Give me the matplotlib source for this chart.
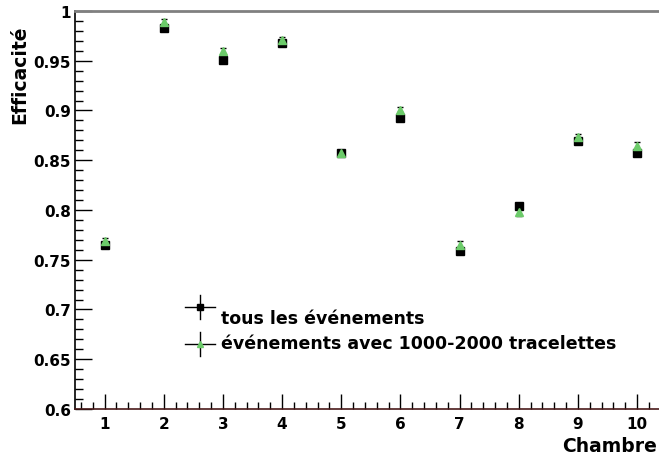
import matplotlib
matplotlib.use("Agg")
import matplotlib.pyplot as plt
from matplotlib.ticker import MultipleLocator, FuncFormatter

chambres = [1, 2, 3, 4, 5, 6, 7, 8, 9, 10]
eff_tous = [0.765, 0.983, 0.951, 0.968, 0.857, 0.892, 0.759, 0.804, 0.869, 0.857]
err_tous = [0.002, 0.002, 0.002, 0.002, 0.002, 0.002, 0.002, 0.002, 0.002, 0.002]
eff_trace = [0.769, 0.989, 0.960, 0.971, 0.857, 0.901, 0.765, 0.798, 0.873, 0.864]
err_trace = [0.003, 0.003, 0.003, 0.003, 0.003, 0.003, 0.004, 0.004, 0.003, 0.004]
label_tous = "tous les événements"
label_trace = "événements avec 1000-2000 tracelettes"

W, H = 659, 464
fig = plt.figure(figsize=(W / 100, H / 100), dpi=100)
ax_left, ax_right, ax_top, ax_bot = 75, 666.6, 12, 410
ax = fig.add_axes([ax_left / W, 1 - ax_bot / H, (ax_right - ax_left) / W, (ax_bot - ax_top) / H])

green = "#6ccb6a"
ax.errorbar(chambres, eff_tous, yerr=err_tous, fmt="s", color="black", ms=6,
            elinewidth=1, capsize=0, zorder=3)
ax.errorbar(chambres, eff_trace, yerr=err_trace, fmt="^", color=green, ms=6,
            ecolor="black", elinewidth=0.8, capsize=2, zorder=4)

ax.set_xlim(0.5, 10.5)
ax.set_ylim(0.6, 1.0)
ax.xaxis.set_major_locator(MultipleLocator(1))
ax.xaxis.set_minor_locator(MultipleLocator(0.2))
ax.yaxis.set_major_locator(MultipleLocator(0.05))
ax.yaxis.set_minor_locator(MultipleLocator(0.01))
ax.yaxis.set_major_formatter(FuncFormatter(lambda v, p: f"{v:g}"))

ax.tick_params(axis="y", which="major", direction="in", length=12, width=1, pad=3,
               labelsize=11, right=False)
ax.tick_params(axis="y", which="minor", direction="in", length=6, width=1, right=False)
ax.tick_params(axis="x", which="major", direction="in", length=11, width=1, pad=5,
               labelsize=11, top=False)
ax.tick_params(axis="x", which="minor", direction="in", length=5, width=1, top=False)
for lab in ax.get_xticklabels() + ax.get_yticklabels():
    lab.set_fontweight("bold")

ax.spines["top"].set_color("#808080")
ax.spines["top"].set_linewidth(2)
ax.spines["right"].set_color("#808080")
ax.spines["bottom"].set_color("#4a1a1a")
ax.spines["bottom"].set_linewidth(1.2)
ax.spines["left"].set_color("black")
ax.spines["left"].set_linewidth(1.2)

fig.text(20 / W, 1 - 25 / H, "Efficacité", rotation=90, ha="center", va="top",
         fontsize=13.5, fontweight="bold")
fig.text(657 / W, 1 - 447 / H, "Chambre", ha="right", va="center",
         fontsize=13.5, fontweight="bold")

# manual legend (axes fraction coordinates)
def px(xp, yp):
    return ((xp - ax_left) / (ax_right - ax_left), (ax_bot - yp) / (ax_bot - ax_top))

for (my, col, mk, ty, lab) in [(308, "black", "s", 319, label_tous),
                               (345, green, "^", 344, label_trace)]:
    x0, y0 = px(200, my)
    xa, _ = px(185, my)
    xb, _ = px(215, my)
    _, ya = px(200, my - 12)
    _, yb = px(200, my + 12)
    ax.plot([xa, xb], [y0, y0], color="black", lw=1, transform=ax.transAxes, clip_on=False)
    ax.plot([x0, x0], [ya, yb], color="black", lw=1, transform=ax.transAxes, clip_on=False)
    ax.plot([x0], [y0], marker=mk, color=col, ms=5, transform=ax.transAxes, clip_on=False)
    tx, tyy = px(221, ty)
    ax.text(tx, tyy, lab, transform=ax.transAxes, ha="left", va="center",
            fontsize=12.5, fontweight="bold")

fig.savefig("out.png", dpi=100)
